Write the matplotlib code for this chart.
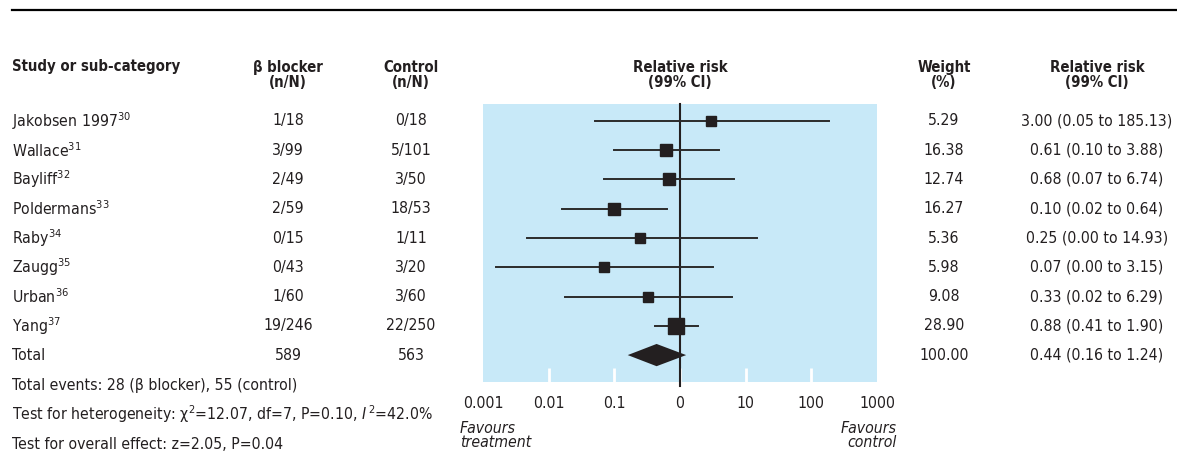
import matplotlib
matplotlib.use("Agg")
import matplotlib.pyplot as plt
from matplotlib.lines import Line2D
from matplotlib.transforms import blended_transform_factory

# fonts: narrow sans like the journal style
plt.rcParams['font.family'] = ['DejaVu Sans']
plt.rcParams['font.stretch'] = 'condensed'
plt.rcParams['mathtext.fontset'] = 'custom'
plt.rcParams['mathtext.rm'] = 'DejaVu Sans:stretch=condensed'
plt.rcParams['mathtext.it'] = 'DejaVu Sans:italic:stretch=condensed'

# ---- data ----
studies = ["Jakobsen 1997", "Wallace", "Bayliff", "Poldermans", "Raby", "Zaugg", "Urban", "Yang"]
refs = [30, 31, 32, 33, 34, 35, 36, 37]
beta_nN = ["1/18", "3/99", "2/49", "2/59", "0/15", "0/43", "1/60", "19/246"]
control_nN = ["0/18", "5/101", "3/50", "18/53", "1/11", "3/20", "3/60", "22/250"]
weights = [5.29, 16.38, 12.74, 16.27, 5.36, 5.98, 9.08, 28.90]
rr = [3.00, 0.61, 0.68, 0.10, 0.25, 0.07, 0.33, 0.88]
ci_lo = [0.05, 0.10, 0.07, 0.02, 0.00, 0.00, 0.02, 0.41]
ci_hi = [185.13, 3.88, 6.74, 0.64, 14.93, 3.15, 6.29, 1.90]
# lower limits as drawn (the printed 0.00 ones are below 0.01)
ci_lo_drawn = [0.05, 0.10, 0.07, 0.016, 0.0046, 0.0016, 0.018, 0.41]

total_beta = "589"
total_control = "563"
total_weight = 100.00
total_rr, total_lo, total_hi = 0.44, 0.16, 1.24

tick_vals = [0.001, 0.01, 0.1, 1, 10, 100, 1000]
tick_labels = ["0.001", "0.01", "0.1", "0", "10", "100", "1000"]

footer = [
    "Total events: 28 (β blocker), 55 (control)",
    r"Test for heterogeneity: χ$^{\mathrm{2}}$=12.07, df=7, P=0.10, $I^{\mathrm{\,2}}$=42.0%",
    "Test for overall effect: z=2.05, P=0.04",
]

W, H = 1177, 459
INK = '#231f20'
FS = 11.3      # body text
FSH = 10.7     # bold headers

fig = plt.figure(figsize=(W / 100, H / 100), dpi=100)
ax = fig.add_axes([483 / W, 1 - 382 / H, 394 / W, 278 / H])
ax.set_facecolor('#c8e9f8')
ax.set_xscale('log')
ax.set_xlim(0.001, 1000)
ax.set_ylim(8.92, -0.58)
for s in ax.spines.values():
    s.set_visible(False)
ax.set_yticks([])
ax.set_xticks(tick_vals)
ax.set_xticklabels(tick_labels)
ax.xaxis.set_minor_locator(matplotlib.ticker.NullLocator())
ax.tick_params(axis='x', direction='in', length=10, width=2, color='white',
               labelsize=FS, labelcolor=INK, pad=10)
# no white notch at the two panel edges
for t in (ax.xaxis.get_major_ticks()[0], ax.xaxis.get_major_ticks()[-1]):
    t.tick1line.set_visible(False)

# line of no effect
ax.axvline(1, ymin=-0.015, ymax=1, color=INK, lw=1.5, clip_on=False, zorder=2)

# individual studies
for i in range(len(studies)):
    ax.plot([ci_lo_drawn[i], ci_hi[i]], [i, i], color='#2b2b2b', lw=1.4, zorder=3)
    side_px = 8.5 + 0.26 * weights[i]
    ax.plot(rr[i], i, marker='s', color=INK, ms=side_px * 0.72, zorder=4)

# pooled diamond
yt = len(studies)
h = 0.38
ax.fill([total_lo, total_rr, total_hi, total_rr], [yt, yt - h, yt, yt + h],
        color=INK, lw=0, zorder=4)

# ---- table text ----
trans = blended_transform_factory(fig.transFigure, ax.transData)
x_study, x_beta, x_ctrl, x_wt, x_ci = 12 / W, 288 / W, 411 / W, 944 / W, 1097 / W

fig.add_artist(Line2D([12 / W, 1], [1 - 10 / H, 1 - 10 / H], transform=fig.transFigure,
                      color='black', lw=1.6))

hy1 = (67 - 121) / 29.25
hy2 = (75 - 121) / 29.25
hdr = dict(transform=trans, fontsize=FSH, fontweight='bold', color=INK, va='center',
           linespacing=1.0)
fig.text(x_study, hy1, "Study or sub-category", ha='left', **hdr)
fig.text(x_beta, hy2, "β blocker\n(n/N)", ha='center', **hdr)
fig.text(x_ctrl, hy2, "Control\n(n/N)", ha='center', **hdr)
fig.text(680 / W, hy2, "Relative risk\n(99% CI)", ha='center', **hdr)
fig.text(x_wt, hy2, "Weight\n(%)", ha='center', **hdr)
fig.text(x_ci, hy2, "Relative risk\n(99% CI)", ha='center', **hdr)

body = dict(transform=trans, fontsize=FS, color=INK, va='center')
for i in range(len(studies)):
    fig.text(x_study, i, studies[i] + r"$^{\mathrm{%d}}$" % refs[i], ha='left', **body)
    fig.text(x_beta, i, beta_nN[i], ha='center', **body)
    fig.text(x_ctrl, i, control_nN[i], ha='center', **body)
    fig.text(x_wt, i, f"{weights[i]:.2f}", ha='center', **body)
    fig.text(x_ci, i, f"{rr[i]:.2f} ({ci_lo[i]:.2f} to {ci_hi[i]:.2f})", ha='center', **body)

fig.text(x_study, yt, "Total", ha='left', **body)
fig.text(x_beta, yt, total_beta, ha='center', **body)
fig.text(x_ctrl, yt, total_control, ha='center', **body)
fig.text(x_wt, yt, f"{total_weight:.2f}", ha='center', **body)
fig.text(x_ci, yt, f"{total_rr:.2f} ({total_lo:.2f} to {total_hi:.2f})", ha='center', **body)

for k, line in enumerate(footer):
    fig.text(x_study, [9.03, 10.02, 11.04][k], line, ha='left', **body)

fig.text(460 / W, 1 - 421 / H, "Favours\ntreatment", ha='left', va='top', style='italic',
         fontsize=FS, color=INK, linespacing=0.92)
fig.text(897 / W, 1 - 421 / H, "Favours\ncontrol", ha='right', va='top', style='italic',
         fontsize=FS, color=INK, linespacing=0.92, multialignment='right')

fig.savefig("out.png", dpi=100)
